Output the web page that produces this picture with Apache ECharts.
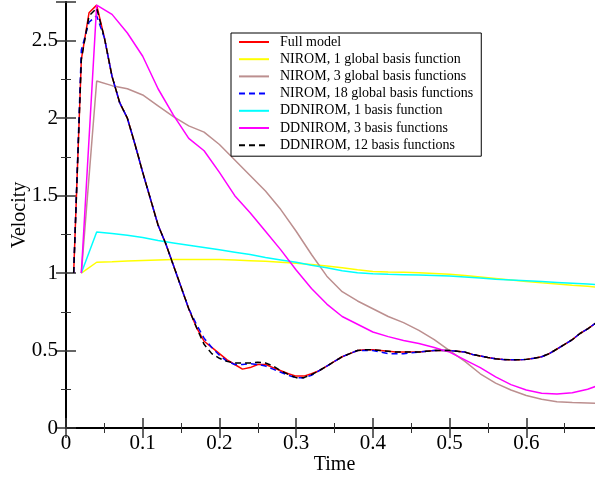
<!DOCTYPE html>
<html><head><meta charset="utf-8">
<script src="https://cdn.jsdelivr.net/npm/echarts@6/dist/echarts.min.js"></script>
<style>html,body{margin:0;padding:0;background:#fff}#c{width:595px;height:478px}</style>
</head><body><div id="c"></div>
<script>
var tFine = [0.01,0.02,0.03,0.04,0.05,0.06,0.07,0.08,0.09,0.10,0.11,0.12,0.13,0.14,0.15,0.16,0.17,0.18,0.19,0.20,
  0.21,0.22,0.23,0.24,0.25,0.26,0.27,0.28,0.29,0.30,0.31,0.32,0.33,0.34,0.35,0.36,0.37,0.38,0.39,0.40,
  0.41,0.42,0.43,0.44,0.45,0.46,0.47,0.48,0.49,0.50,0.51,0.52,0.53,0.54,0.55,0.56,0.57,0.58,0.59,0.60,
  0.61,0.62,0.63,0.64,0.65,0.66,0.67,0.68,0.69];
var fullModel = [1.00,2.38,2.68,2.73,2.52,2.27,2.10,2.00,1.83,1.65,1.48,1.31,1.19,1.05,0.91,0.77,0.65,0.56,0.52,0.48,
  0.44,0.41,0.38,0.39,0.41,0.41,0.39,0.37,0.35,0.335,0.335,0.35,0.37,0.40,0.43,0.46,0.48,0.50,0.505,0.505,
  0.50,0.495,0.49,0.49,0.49,0.49,0.495,0.50,0.50,0.50,0.495,0.49,0.475,0.465,0.455,0.447,0.442,0.44,0.44,0.443,
  0.45,0.46,0.48,0.51,0.54,0.57,0.61,0.64,0.675];
var nirom18 = [1.00,2.44,2.62,2.66,2.52,2.27,2.10,2.00,1.83,1.65,1.48,1.31,1.19,1.05,0.91,0.77,0.67,0.58,0.52,0.47,
  0.43,0.41,0.41,0.415,0.41,0.40,0.38,0.36,0.34,0.325,0.325,0.34,0.37,0.40,0.43,0.46,0.48,0.50,0.50,0.50,
  0.49,0.48,0.48,0.48,0.485,0.49,0.495,0.50,0.50,0.50,0.495,0.49,0.475,0.465,0.455,0.447,0.442,0.44,0.44,0.443,
  0.45,0.46,0.48,0.51,0.54,0.57,0.61,0.64,0.675];
var ddnirom12 = [1.00,2.38,2.66,2.71,2.52,2.27,2.10,2.00,1.83,1.65,1.48,1.31,1.19,1.05,0.91,0.77,0.65,0.54,0.48,0.45,
  0.43,0.42,0.42,0.42,0.425,0.42,0.40,0.37,0.345,0.325,0.325,0.345,0.37,0.40,0.43,0.46,0.48,0.50,0.505,0.505,
  0.50,0.495,0.49,0.49,0.49,0.49,0.495,0.50,0.50,0.50,0.495,0.49,0.475,0.465,0.455,0.447,0.442,0.44,0.44,0.443,
  0.45,0.46,0.48,0.51,0.54,0.57,0.61,0.64,0.675];
var tCoarse = [0.02,0.04,0.06,0.08,0.10,0.12,0.14,0.16,0.18,0.20,0.22,0.24,0.26,0.28,0.30,0.32,0.34,0.36,0.38,0.40,
  0.42,0.44,0.46,0.48,0.50,0.52,0.54,0.56,0.58,0.60,0.62,0.64,0.66,0.68,0.69];
var nirom1 = [1.00,1.07,1.073,1.078,1.082,1.085,1.087,1.088,1.088,1.087,1.084,1.08,1.076,1.07,1.063,1.055,1.045,1.035,1.022,1.01,
  1.007,1.005,1.002,0.998,0.992,0.985,0.975,0.965,0.955,0.945,0.937,0.93,0.922,0.915,0.91];
var nirom3 = [1.00,2.24,2.21,2.19,2.15,2.08,2.01,1.95,1.91,1.83,1.73,1.63,1.53,1.41,1.27,1.12,0.98,0.88,0.82,0.77,
  0.72,0.68,0.63,0.57,0.50,0.43,0.35,0.29,0.245,0.21,0.185,0.17,0.165,0.162,0.16];
var ddnirom1 = [1.00,1.265,1.255,1.245,1.23,1.21,1.195,1.18,1.165,1.15,1.135,1.12,1.10,1.085,1.07,1.05,1.035,1.015,1.002,0.995,
  0.992,0.99,0.988,0.985,0.982,0.975,0.968,0.96,0.955,0.95,0.945,0.94,0.935,0.93,0.927];
var ddnirom3 = [1.00,2.73,2.67,2.55,2.40,2.19,2.02,1.87,1.79,1.65,1.50,1.39,1.27,1.15,1.02,0.90,0.80,0.72,0.67,0.62,
  0.59,0.565,0.545,0.52,0.49,0.44,0.39,0.33,0.28,0.245,0.225,0.22,0.228,0.25,0.268];
var xTicks = [0,0.1,0.2,0.3,0.4,0.5,0.6];
var yTicks = [0,0.5,1,1.5,2,2.5];

function zip(t, v){ return t.map(function(x,i){ return [x, v[i]]; }); }
var serif = '"Liberation Serif","DejaVu Serif",serif';
function mk(name, t, v, color, dashed){
  return {name:name, type:'line', data:zip(t,v), symbol:'none', showSymbol:false, animation:false,
    lineStyle:{color:color, width:1.5, type: dashed ? [6,4] : 'solid'}, itemStyle:{color:color}, clip:true};
}
var chart = echarts.init(document.getElementById('c'), null, {renderer:'canvas'});
var axisCommon = {
  axisLine:{show:true, lineStyle:{color:'#000', width:2}},
  axisTick:{show:true, inside:true, length:10, lineStyle:{color:'#333', width:1.5}},
  minorTick:{show:true, splitNumber:2, length:5, lineStyle:{color:'#333', width:1}},
  splitLine:{show:false}
};
chart.setOption({
  backgroundColor:'#fff',
  animation:false,
  grid:{left:66, top:2, width:537, height:426, containLabel:false, outerBoundsMode:'none'},
  legend:{
    orient:'vertical', left:231, top:33, width:253,
    backgroundColor:'#fff', borderColor:'#000', borderWidth:1,
    padding:[2,8,4,7], itemWidth:30, itemHeight:14, itemGap:3.2,
    itemStyle:{opacity:0},
    textStyle:{fontFamily:serif, fontSize:14, color:'#000', padding:[0,0,0,6]},
    data:['Full model','NIROM, 1 global basis function','NIROM, 3 global basis functions','NIROM, 18 global basis functions','DDNIROM, 1 basis function','DDNIROM, 3 basis functions','DDNIROM, 12 basis functions']
  },
  xAxis:[
    Object.assign({type:'value', min:0, max:0.7, interval:0.1, position:'bottom',
      name:'Time', nameLocation:'middle', nameGap:27, nameMoveOverlap:false,
      nameTextStyle:{fontFamily:serif, fontSize:20, color:'#000'},
      axisLabel:{fontFamily:serif, fontSize:21, color:'#000', margin:5,
        customValues: xTicks, formatter:function(v){return String(v);}}
    }, axisCommon),
    Object.assign({type:'value', min:0, max:0.7, interval:0.1, position:'top', axisLabel:{show:false}}, axisCommon)
  ],
  yAxis:[
    Object.assign({type:'value', min:0, max:2.75, interval:0.5, position:'left',
      name:'Velocity', nameLocation:'middle', nameGap:36, nameRotate:90, nameMoveOverlap:false,
      nameTextStyle:{fontFamily:serif, fontSize:20, color:'#000'},
      axisLabel:{fontFamily:serif, fontSize:21, color:'#000', margin:8,
        customValues: yTicks, formatter:function(v){return String(v);}}
    }, axisCommon),
    Object.assign({type:'value', min:0, max:2.75, interval:0.5, position:'right', axisLabel:{show:false}}, axisCommon)
  ],
  series:[
    mk('Full model', tFine, fullModel, '#ff0000', false),
    mk('NIROM, 1 global basis function', tCoarse, nirom1, '#ffff00', false),
    mk('NIROM, 3 global basis functions', tCoarse, nirom3, '#bc8f8f', false),
    mk('NIROM, 18 global basis functions', tFine, nirom18, '#0000ff', true),
    mk('DDNIROM, 1 basis function', tCoarse, ddnirom1, '#00ffff', false),
    mk('DDNIROM, 3 basis functions', tCoarse, ddnirom3, '#ff00ff', false),
    mk('DDNIROM, 12 basis functions', tFine, ddnirom12, '#000000', true)
  ]
});
</script></body></html>
